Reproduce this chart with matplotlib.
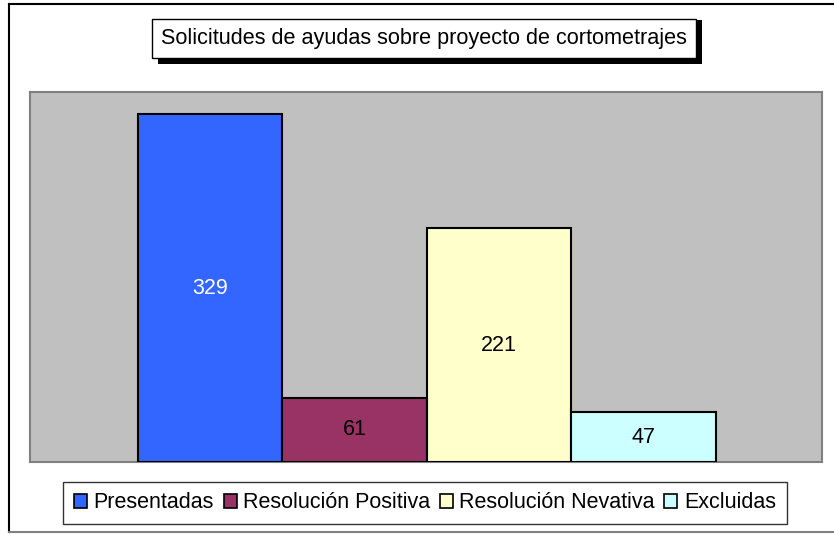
import matplotlib.pyplot as plt
from matplotlib.patches import Rectangle, Patch
from matplotlib.lines import Line2D

plt.rcParams['font.family'] = ['Liberation Sans', 'DejaVu Sans']

categories = ["Presentadas", "Resolución Positiva", "Resolución Nevativa", "Excluidas"]
values = [329, 61, 221, 47]
colors = ["#3366FF", "#993366", "#FFFFCC", "#CCFFFF"]
label_colors = ["white", "black", "black", "black"]
title = "Solicitudes de ayudas sobre proyecto de cortometrajes"

W, H = 834, 534
fig = plt.figure(figsize=(W / 100, H / 100), dpi=100)


def fx(px):
    return px / W


def fy(py):
    return 1 - py / H


# plot area
ax = fig.add_axes([fx(30), fy(462), fx(792), 370 / H])
ax.set_facecolor("#C0C0C0")
x = range(len(values))
ax.bar(x, values, width=1.0, color=colors, edgecolor="black", linewidth=1.5, zorder=3)
for i, v in enumerate(values):
    ax.text(i, v / 2, str(v), ha="center", va="center", fontsize=15.5,
            color=label_colors[i], zorder=4)
ax.set_xlim(-1.245, 4.235)
ax.set_ylim(0, 350)
ax.set_xticks([])
ax.set_yticks([])
for s in ax.spines.values():
    s.set_color("#808080")
    s.set_linewidth(1.5)

# outer border (left, top, bottom)
fig.add_artist(Line2D([fx(9), fx(9)], [fy(532), fy(4)], color="black", lw=1.5))
fig.add_artist(Line2D([fx(9), 1], [fy(4), fy(4)], color="black", lw=1.5))
fig.add_artist(Line2D([fx(9), 1], [fy(532), fy(532)], color="#808080", lw=1.5))

# title box with shadow
fig.add_artist(Rectangle((fx(158), fy(64)), fx(544), 44 / H, facecolor="black",
                         edgecolor="none"))
fig.add_artist(Rectangle((fx(152), fy(58)), fx(544), 39 / H, facecolor="white",
                         edgecolor="black", lw=1))
fig.text(fx(424), fy(38.5), title, ha="center", va="center", fontsize=15.6)

# legend
handles = [Patch(facecolor=c, edgecolor="black", linewidth=1.2) for c in colors]
leg = fig.legend(handles, categories, loc="center", bbox_to_anchor=(fx(425), fy(503)),
                 ncol=4, fontsize=15.5, frameon=True, fancybox=False,
                 handlelength=0.6, handleheight=0.6, handletextpad=0.3,
                 columnspacing=0.45, borderpad=0.5, borderaxespad=0)
leg.get_frame().set_edgecolor("black")
leg.get_frame().set_linewidth(1)

fig.savefig("out.png", dpi=100)
